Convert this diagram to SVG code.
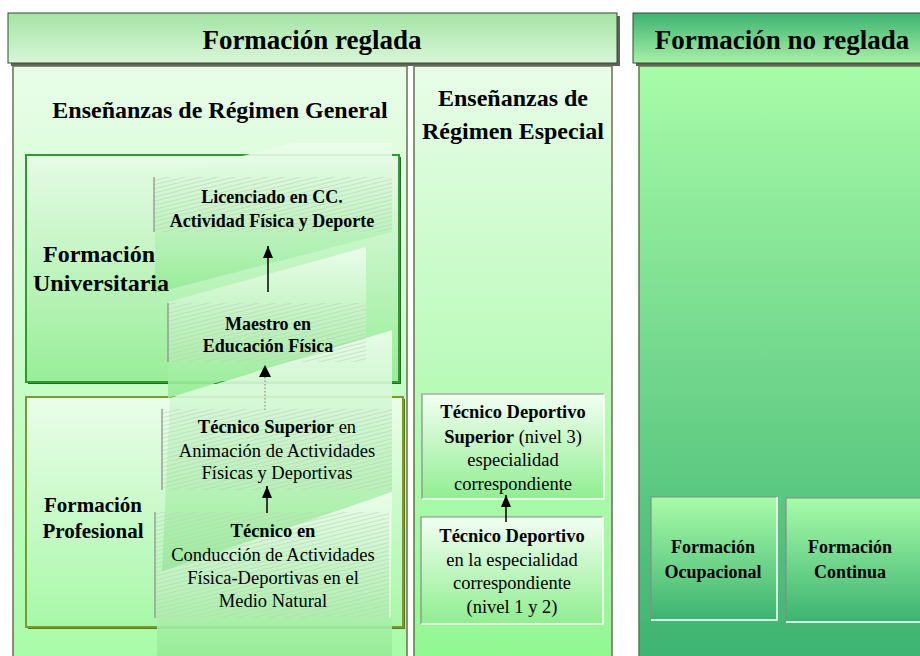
<svg xmlns="http://www.w3.org/2000/svg" width="920" height="656" viewBox="0 0 920 656">
<style>
text{font-family:"Liberation Serif","Times New Roman",serif;fill:#000;text-anchor:middle}
.b{font-weight:bold}
.h{font-size:27px;font-weight:bold}
.s{font-size:24px;font-weight:bold}
.n{font-size:18.5px}
.nb{font-size:18px;font-weight:bold}
.panel{stroke:#6e6e50;stroke-width:1.5}
.lb{stroke:#8a8a8a;stroke-width:1.2}
.wl{stroke:#ffffff;stroke-width:1.5}
.gl{stroke:#8a8a8a;stroke-width:1.2}
.con{stroke:#000;stroke-width:1.5;fill:none;marker-end:url(#arr)}
</style>
<defs>
<linearGradient id="gHdr1" x1="0" y1="0" x2="0" y2="1"><stop offset="0" stop-color="#a4e4a4"/><stop offset="1" stop-color="#d8f6d8"/></linearGradient>
<linearGradient id="gHdr2" x1="0" y1="0" x2="0" y2="1"><stop offset="0" stop-color="#3cb371"/><stop offset="1" stop-color="#a8f0a8"/></linearGradient>
<linearGradient id="gLeft" x1="0" y1="0" x2="0" y2="1"><stop offset="0" stop-color="#e8fde8"/><stop offset="1" stop-color="#a8fca8"/></linearGradient>
<linearGradient id="gMid" x1="0" y1="0" x2="0" y2="1"><stop offset="0" stop-color="#e8fde8"/><stop offset="1" stop-color="#90f890"/></linearGradient>
<linearGradient id="gRight" x1="0" y1="0" x2="0" y2="1"><stop offset="0" stop-color="#a8fca8"/><stop offset="1" stop-color="#3cb371"/></linearGradient>
<linearGradient id="gUni" x1="0" y1="0" x2="0" y2="1"><stop offset="0" stop-color="#e6fbe6"/><stop offset="1" stop-color="#98ee98"/></linearGradient>
<linearGradient id="gPro" x1="0" y1="0" x2="0" y2="1"><stop offset="0" stop-color="#eafdea"/><stop offset="1" stop-color="#a8f8a8"/></linearGradient>
<linearGradient id="gBox" x1="0" y1="0" x2="0" y2="1"><stop offset="0" stop-color="#f2fff2"/><stop offset="1" stop-color="#90ee90"/></linearGradient>
<linearGradient id="gBox2" x1="0" y1="0" x2="0" y2="1"><stop offset="0" stop-color="#a8fca8"/><stop offset="1" stop-color="#3cb371"/></linearGradient>
<linearGradient id="gBand" x1="0" y1="0" x2="0" y2="1"><stop offset="0" stop-color="#eefdee"/><stop offset="1" stop-color="#96ec96"/></linearGradient>
<pattern id="hatch" width="4" height="4" patternUnits="userSpaceOnUse" patternTransform="rotate(-14)"><line x1="0" y1="0.5" x2="4" y2="0.5" stroke="#bfcfbf" stroke-width="0.6"/></pattern>
<marker id="arr" viewBox="0 0 12 10" refX="12" refY="5" markerWidth="12" markerHeight="10" markerUnits="userSpaceOnUse" orient="auto"><path d="M0,0 L12,5 L0,10 z" fill="#000"/></marker>
</defs>

<rect width="920" height="656" fill="#ffffff"/>

<g id="header-reglada">
<rect x="11" y="16" width="609" height="50" fill="#606060"/>
<rect x="8" y="13" width="609" height="50" fill="url(#gHdr1)" stroke="#2f4f2f" stroke-width="1"/>
<text class="h" x="312" y="49">Formación reglada</text>
</g>
<g id="header-no-reglada">
<rect x="636" y="16" width="290" height="50" fill="#606060"/>
<rect x="633" y="13" width="290" height="50" fill="url(#gHdr2)" stroke="#2f4f2f" stroke-width="1"/>
<text class="h" x="782" y="49">Formación no reglada</text>
</g>

<g id="panel-general">
<rect class="panel" x="13" y="66" width="394" height="596" fill="url(#gLeft)"/>
<text class="s" x="220" y="118">Enseñanzas de Régimen General</text>
</g>
<g id="panel-especial">
<rect class="panel" x="414" y="66" width="198" height="596" fill="url(#gMid)"/>
<text class="s" x="513" y="106">Enseñanzas de</text>
<text class="s" x="513" y="139">Régimen Especial</text>
</g>
<g id="panel-no-reglada">
<rect class="panel" x="639" y="66" width="290" height="596" fill="url(#gRight)"/>
</g>

<g id="formacion-universitaria">
<rect x="28" y="157" width="373" height="227" fill="#1f6f1f"/>
<rect x="26" y="155" width="373" height="227" fill="url(#gUni)" stroke="#2e9b2e" stroke-width="2"/>
</g>
<g id="formacion-profesional">
<rect x="28" y="399" width="377" height="230" fill="#5a7a1a"/>
<rect x="26" y="397" width="377" height="230" fill="url(#gPro)" stroke="#7a9a2a" stroke-width="2"/>
</g>

<g id="bands" opacity="0.9">
<polygon points="155,178 293,143 392,143 392,232 155,293" fill="url(#gBand)"/>
<polygon points="168,302 366,247 366,336 168,398" fill="url(#gBand)"/>
<polygon points="170,398 392,330 392,492 162,572" fill="url(#gBand)"/>
<polygon points="157,573 392,492 392,656 157,656" fill="url(#gBand)"/>
</g>

<g id="licenciado">
<rect x="154" y="177" width="238" height="55" fill="url(#hatch)"/>
<line class="lb" x1="154" y1="177" x2="154" y2="232"/>
<text class="nb" x="272" y="203">Licenciado en CC.</text>
<text class="nb" x="272" y="227">Actividad Física y Deporte</text>
</g>
<g id="maestro">
<rect x="168" y="303" width="198" height="59" fill="url(#hatch)"/>
<line class="lb" x1="168" y1="303" x2="168" y2="362"/>
<text class="nb" x="268" y="330">Maestro en</text>
<text class="nb" x="268" y="352">Educación Física</text>
</g>
<g id="tecnico-superior">
<rect x="162" y="409" width="230" height="81" fill="url(#hatch)"/>
<line class="lb" x1="162" y1="409" x2="162" y2="490"/>
<text class="n" x="277" y="433"><tspan class="b">Técnico Superior</tspan> en</text>
<text class="n" x="277" y="457">Animación de Actividades</text>
<text class="n" x="277" y="479">Físicas y Deportivas</text>
</g>
<g id="tecnico-conduccion">
<rect x="155" y="512" width="235" height="106" fill="url(#hatch)"/>
<line class="lb" x1="155" y1="512" x2="155" y2="618"/>
<line class="wl" x1="390" y1="512" x2="390" y2="618" stroke-opacity="0.6"/>
<text class="n" x="273" y="537"><tspan class="b">Técnico en</tspan></text>
<text class="n" x="273" y="561">Conducción de Actividades</text>
<text class="n" x="273" y="584">Física-Deportivas en el</text>
<text class="n" x="273" y="607">Medio Natural</text>
</g>

<text class="s" x="99" y="262">Formación</text>
<text class="s" x="101" y="291">Universitaria</text>
<text class="s" x="93" y="512" style="font-size:21px">Formación</text>
<text class="s" x="93" y="538" style="font-size:21px">Profesional</text>

<g id="td-superior">
<rect x="422" y="394" width="182" height="105" fill="url(#gBox)"/>
<polyline class="gl" points="422,499 422,394 604,394" fill="none"/>
<polyline class="wl" points="422,499 604,499 604,394" fill="none"/>
<text class="n" x="513" y="418"><tspan class="b">Técnico Deportivo</tspan></text>
<text class="n" x="513" y="443"><tspan class="b">Superior</tspan> (nivel 3)</text>
<text class="n" x="513" y="466">especialidad</text>
<text class="n" x="513" y="490">correspondiente</text>
</g>
<g id="td-basico">
<rect x="421" y="517" width="182" height="107" fill="url(#gBox)"/>
<polyline class="gl" points="421,624 421,517 603,517" fill="none"/>
<polyline class="wl" points="421,624 603,624 603,517" fill="none"/>
<text class="n" x="512" y="542"><tspan class="b">Técnico Deportivo</tspan></text>
<text class="n" x="512" y="566">en la especialidad</text>
<text class="n" x="512" y="589">correspondiente</text>
<text class="n" x="512" y="613">(nivel 1 y 2)</text>
</g>

<g id="ocupacional">
<rect x="651" y="497" width="126" height="123" fill="url(#gBox2)"/>
<polyline class="gl" points="651,620 651,497 777,497" fill="none"/>
<polyline class="wl" points="651,620 777,620 777,497" fill="none"/>
<text class="nb" x="713" y="553">Formación</text>
<text class="nb" x="713" y="578">Ocupacional</text>
</g>
<g id="continua">
<rect x="786" y="498" width="134" height="124" fill="url(#gBox2)"/>
<polyline class="gl" points="786,622 786,498 920,498" fill="none"/>
<polyline class="wl" points="786,622 920,622" fill="none"/>
<text class="nb" x="850" y="553">Formación</text>
<text class="nb" x="850" y="578">Continua</text>
</g>

<g id="connectors">
<line class="con" x1="268" y1="292" x2="268" y2="246"/>
<line x1="265" y1="410" x2="265" y2="372" stroke="#777" stroke-width="1" stroke-dasharray="1.5 2"/>
<path d="M259,377 L265,365 L271,377 z" fill="#000"/>
<line class="con" x1="267" y1="513" x2="267" y2="486"/>
<line class="con" x1="506" y1="522" x2="506" y2="495"/>
</g>
</svg>
